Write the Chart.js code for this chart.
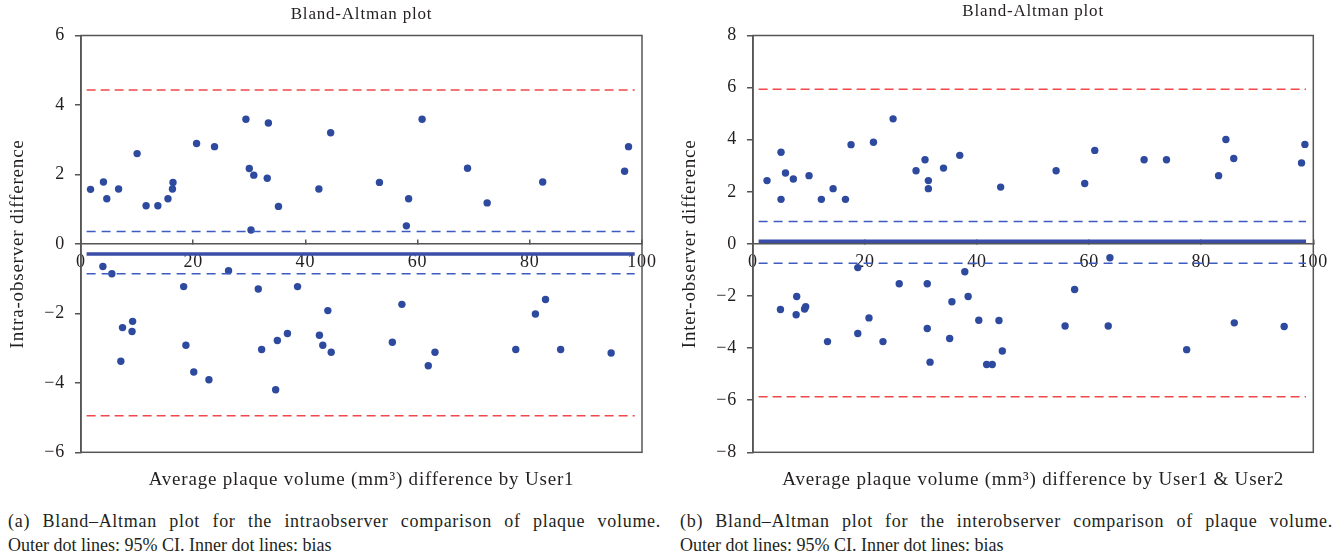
<!DOCTYPE html>
<html>
<head>
<meta charset="utf-8">
<script src="https://cdn.jsdelivr.net/npm/chart.js@4.4.1/dist/chart.umd.min.js"></script>
<style>
    body { margin: 0; background: #fff; width: 1341px; height: 559px; position: relative; overflow: hidden; }
    .panel { position: absolute; top: 0; }
    .caption { position: absolute; font-family: "Liberation Serif", serif; font-size: 18px; line-height: 24px; color: #231f20; white-space: nowrap; }
    .caption .first { width: 653px; text-align: justify; text-align-last: justify; letter-spacing: 0.7px; }
</style>
</head>
<body>
<div class="panel" style="left:0"><canvas id="intraChart" width="670" height="500"></canvas></div>
<div class="panel" style="left:672px"><canvas id="interChart" width="669" height="500"></canvas></div>
<div class="caption" style="left:8px; top:509px"><div class="first">(a) Bland–Altman plot for the intraobserver comparison of plaque volume.</div>Outer dot lines: 95% CI. Inner dot lines: bias</div>
<div class="caption" style="left:680px; top:509px"><div class="first">(b) Bland–Altman plot for the interobserver comparison of plaque volume.</div>Outer dot lines: 95% CI. Inner dot lines: bias</div>
<script>
// Intra-observer (User1) points
const intraAvg = [1.7, 4.0, 4.6, 6.7, 10.0, 11.6, 13.7, 15.5, 16.3, 16.4, 20.6, 23.8, 29.4, 30.0, 30.8, 30.3, 33.4, 33.2, 35.2, 44.5,
    42.4, 53.2, 58.0, 58.4, 60.8, 68.9, 72.4, 82.3, 96.9, 97.6,
    3.9, 5.5, 7.4, 7.1, 9.1, 9.2, 18.3, 18.7, 20.1, 22.8, 26.3, 31.6, 32.2, 34.7, 35.0, 36.8, 38.6, 42.5, 43.1, 44.0,
    44.6, 55.5, 57.2, 61.9, 63.1, 77.5, 81.0, 82.8, 85.5, 94.5];
const intraDiff = [1.57, 1.78, 1.30, 1.58, 2.60, 1.10, 1.10, 1.30, 1.58, 1.77, 2.89, 2.80, 3.59, 2.17, 1.98, 0.40, 3.48, 1.89, 1.08, 3.20,
    1.58, 1.77, 0.52, 1.30, 3.59, 2.18, 1.18, 1.78, 2.09, 2.80,
    -0.65, -0.86, -2.41, -3.38, -2.52, -2.23, -1.23, -2.92, -3.69, -3.91, -0.77, -1.30, -3.04, -4.20, -2.78, -2.58, -1.23, -2.63, -2.92, -1.92,
    -3.12, -2.83, -1.74, -3.51, -3.12, -3.04, -2.02, -1.60, -3.04, -3.14];
const intraLimits = [4.43, -4.95];
const intraBias = [0.36, -0.86];
const intraMean = -0.29;

// Inter-observer (User1 & User2) points
const interAvg = [2.5, 5.0, 5.0, 5.8, 7.2, 10.0, 12.2, 14.3, 16.5, 17.5, 21.5, 25.0, 29.1, 30.7, 31.3, 31.3, 34.0, 36.9, 44.2, 54.1,
    59.2, 61.0, 69.8, 73.8, 83.1, 84.4, 85.8, 97.9, 98.5,
    4.9, 7.8, 7.7, 9.2, 9.4, 13.3, 18.7, 18.7, 20.7, 23.2, 26.1, 31.1, 31.1, 31.6, 35.1, 35.5, 37.8, 38.4, 40.3, 41.7,
    42.7, 43.9, 44.5, 55.7, 57.4, 63.4, 63.7, 77.4, 85.9, 94.8];
const interDiff = [2.43, 3.52, 1.71, 2.72, 2.49, 2.62, 1.71, 2.12, 1.71, 3.81, 3.90, 4.80, 2.81, 3.23, 2.43, 2.12, 2.91, 3.40, 2.18, 2.81,
    2.32, 3.59, 3.23, 3.23, 2.62, 4.01, 3.28, 3.11, 3.82,
    -2.52, -2.02, -2.72, -2.50, -2.41, -3.75, -3.44, -0.91, -2.84, -3.75, -1.53, -1.53, -3.25, -4.54, -3.63, -2.22, -1.07, -2.02, -2.93, -4.63,
    -4.63, -2.94, -4.11, -3.15, -1.75, -3.15, -0.53, -4.06, -3.03, -3.17];
const interLimits = [5.94, -5.87];
const interBias = [0.86, -0.74];
const interMean = 0.1;

const lineStart = 1;
const lineEnd = 98.7;

const serif = '"Liberation Serif", "Times New Roman", serif';
const textColor = '#231f20';
const axisColor = '#555';

// Box around the plot area
const framePlugin = {
    id: 'frame',
    afterDraw(chart) {
        const a = chart.chartArea;
        const ctx = chart.ctx;
        ctx.save();
        ctx.strokeStyle = axisColor;
        ctx.lineWidth = 1.5;
        ctx.strokeRect(a.left, a.top, a.right - a.left, a.bottom - a.top);
        ctx.restore();
    }
};

// the original typeface runs wider than Liberation Serif
const spacingPlugin = {
    id: 'spacing',
    beforeLayout(chart) { chart.ctx.letterSpacing = '0.8px'; },
    beforeDraw(chart) { chart.ctx.letterSpacing = '0.8px'; }
};

function hLine(value, color, width, dash) {
    return {
        data: [{ x: lineStart, y: value }, { x: lineEnd, y: value }],
        showLine: true,
        borderColor: color,
        borderWidth: width,
        borderDash: dash,
        pointRadius: 0,
        pointHoverRadius: 0
    };
}

const minusFmt = v => String(v).replace('-', '\u2212');

function buildChart(canvasId, xs, ys, limits, bias, mean, yMax, yTitle, xTitle, titleTop, rightPad) {
    const points = xs.map((x, i) => ({ x: x, y: ys[i] }));
    const datasets = [
        hLine(limits[0], '#f2474b', 1.5, [9, 5]),
        hLine(limits[1], '#f2474b', 1.5, [9, 5]),
        hLine(bias[0], '#3e5cc0', 1.5, [9, 6]),
        hLine(bias[1], '#3e5cc0', 1.5, [9, 6]),
        hLine(mean, '#3a4ea8', 3.5, []),
        {
            data: points,
            pointRadius: 3.7,
            pointBackgroundColor: '#2e4a9f',
            pointBorderWidth: 0,
            showLine: false
        }
    ];

    return new Chart(document.getElementById(canvasId), {
        type: 'scatter',
        data: { datasets: datasets },
        options: {
            responsive: false,
            animation: false,
            layout: { padding: { left: 0, right: rightPad, top: 0, bottom: 0 } },
            plugins: {
                legend: { display: false },
                tooltip: { enabled: false },
                title: {
                    display: true,
                    text: 'Bland-Altman plot',
                    fullSize: false,
                    color: textColor,
                    font: { family: serif, size: 17, weight: 'normal' },
                    padding: { top: titleTop, bottom: 15.1 - titleTop }
                }
            },
            scales: {
                x: {
                    type: 'linear',
                    min: 0,
                    max: 100,
                    position: { y: 0 },
                    ticks: { stepSize: 20, color: textColor, padding: 13, font: { family: serif, size: 18 } },
                    grid: { drawOnChartArea: false, tickLength: -5, color: axisColor, lineWidth: 1.5 },
                    border: { color: axisColor, width: 1.5 }
                },
                x2: {
                    type: 'linear',
                    position: 'bottom',
                    ticks: { display: false },
                    grid: { display: false },
                    border: { display: false },
                    title: {
                        display: true,
                        text: xTitle,
                        color: textColor,
                        font: { family: serif, size: 19 },
                        padding: { top: 0, bottom: 9 }
                    },
                    afterFit(scale) { scale.height = 500 - 452.3; }
                },
                y: {
                    min: -yMax,
                    max: yMax,
                    ticks: { stepSize: 2, color: textColor, padding: 10, font: { family: serif, size: 18 }, callback: minusFmt },
                    grid: { drawOnChartArea: false, tickLength: 6, color: axisColor, lineWidth: 1.5 },
                    border: { color: axisColor, width: 1.5 },
                    title: {
                        display: true,
                        text: yTitle,
                        color: textColor,
                        font: { family: serif, size: 19 },
                        padding: { top: 7, bottom: 0 }
                    },
                    afterFit(scale) { scale.width = 81; }
                }
            }
        },
        plugins: [framePlugin, spacingPlugin]
    });
}

buildChart('intraChart', intraAvg, intraDiff, intraLimits, intraBias, intraMean, 6,
    'Intra-observer difference', 'Average plaque volume (mm³) difference by User1', 4, 28);
buildChart('interChart', interAvg, interDiff, interLimits, interBias, interMean, 8,
    'Inter-observer difference', 'Average plaque volume (mm³) difference by User1 & User2', 1, 27);
</script>
</body>
</html>
